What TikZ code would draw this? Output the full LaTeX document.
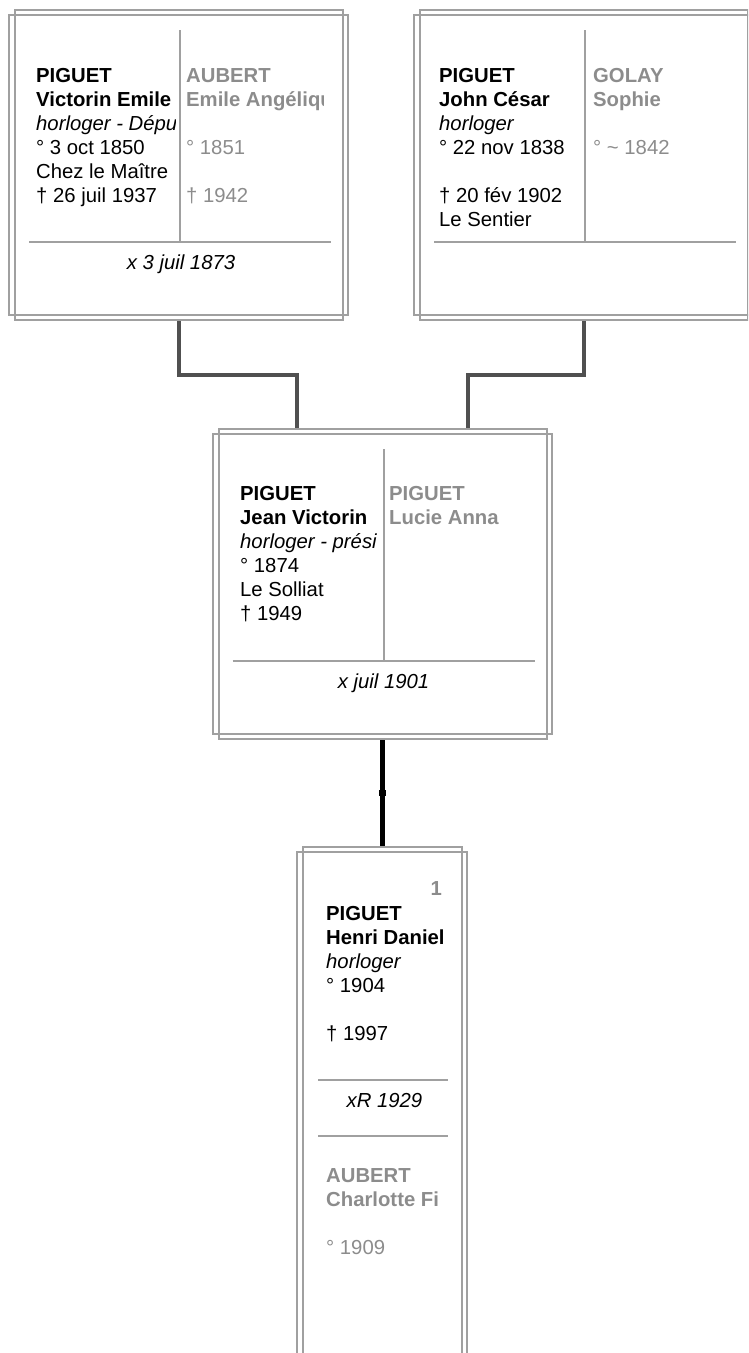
\documentclass[tikz,border=0pt]{standalone}
\usepackage{fontspec}
\setmainfont{Liberation Sans}
\usetikzlibrary{calc}

\definecolor{framegray}{HTML}{A0A0A0}
\definecolor{spousegray}{HTML}{8C8C8C}
\definecolor{linkgray}{HTML}{505050}

\tikzset{
  famframe/.style={inner sep=0, outer sep=0, minimum width=328pt, minimum height=310pt},
  sepline/.style={draw=framegray, line width=2pt},
  txt/.style={anchor=base west, inner sep=0, font=\fontsize{20.3pt}{24pt}\selectfont},
  spouse/.style={txt, text=spousegray},
  wedding/.style={txt, anchor=base, font=\fontsize{20.3pt}{24pt}\selectfont\itshape},
  link/.style={draw=linkgray, line width=4.5pt},
  kidlink/.style={draw=black, line width=5pt},
}

\begin{document}
\begin{tikzpicture}[x=1pt, y=-1pt]
  \useasboundingbox (0,0) rectangle (748,1353);
  \clip (0,0) rectangle (748,1353);

  % family boxes
  \node[famframe] (tl) at (179,165) {};
  \node[famframe] (tr) at (584,165) {};
  \node[famframe] (mid) at (382.5,584) {};
  \node[famframe, minimum width=159pt, minimum height=560pt] (kid) at (382.5,1127) {};

  % links between generations
  \coordinate (midl) at ($(mid.north)+(-85.5,0)$);
  \coordinate (midr) at ($(mid.north)+(85.5,0)$);
  \coordinate (kj) at ($(mid.south)!0.5!(kid.north)$);
  \draw[link] (tl.south) -- ++(0,55) -| (midl);
  \draw[link] (tr.south) -- ++(0,55) -| (midr);
  \draw[kidlink] (mid.south) -- (kj) -- (kid.north);
  \fill ($(kj)+(-3.5,-3)$) rectangle ($(kj)+(3.5,3)$);

  % double frames
  \foreach \b in {tl,tr,mid,kid} {
    \draw[sepline] (\b.north west) rectangle (\b.south east);
    \draw[sepline] ($(\b.north west)+(-6,5)$) rectangle ($(\b.south east)+(5,-5)$);
  }

  % husband / wife split and wedding rule
  \foreach \b in {tl,tr,mid} {
    \draw[sepline] ($(\b.north)+(1,20)$) -- ($(\b.north)+(1,232)$);
    \draw[sepline] ($(\b.north west)+(14,232)$) -- ($(\b.north east)+(-12,232)$);
  }

  % top left couple
  \begin{scope}
    \clip (30,40) rectangle (175,236);
    \foreach \t [count=\i] in {{\bfseries PIGUET}, {\bfseries Victorin Emile},
        {\itshape horloger - Dépu}, ° 3 oct 1850, Chez le Maître, † 26 juil 1937}
      \node[txt] (tlh\i) at (36,{82+(\i-1)*24}) {\t};
  \end{scope}
  \begin{scope}
    \clip (183,40) rectangle (323,236);
    \foreach \t [count=\i] in {{\bfseries AUBERT}, {\bfseries Emile Angéliqu}, {}, ° 1851, {}, † 1942}
      \node[spouse] (tlw\i) at (186,{82+(\i-1)*24}) {\t};
  \end{scope}
  \node[wedding] (tlx) at ($(tl.north)+(2,259)$) {x 3 juil 1873};

  % top right couple
  \begin{scope}
    \clip (435,40) rectangle (581,236);
    \foreach \t [count=\i] in {{\bfseries PIGUET}, {\bfseries John César},
        {\itshape horloger}, ° 22 nov 1838, {}, † 20 fév 1902, Le Sentier}
      \node[txt] (trh\i) at (439,{82+(\i-1)*24}) {\t};
  \end{scope}
  \begin{scope}
    \clip (589,40) rectangle (730,236);
    \foreach \t [count=\i] in {{\bfseries GOLAY}, {\bfseries Sophie}, {}, ° \textasciitilde{} 1842}
      \node[spouse] (trw\i) at (593,{82+(\i-1)*24}) {\t};
  \end{scope}

  % middle couple
  \begin{scope}
    \clip (232,460) rectangle (377,655);
    \foreach \t [count=\i] in {{\bfseries PIGUET}, {\bfseries Jean Victorin},
        {\itshape horloger - prési}, ° 1874, Le Solliat, † 1949}
      \node[txt] (mdh\i) at (240,{500+(\i-1)*24}) {\t};
  \end{scope}
  \begin{scope}
    \clip (386,460) rectangle (527,655);
    \foreach \t [count=\i] in {{\bfseries PIGUET}, {\bfseries Lucie Anna}}
      \node[spouse] (mdw\i) at (389,{500+(\i-1)*24}) {\t};
  \end{scope}
  \node[wedding] (mdx) at ($(mid.north)+(1,259)$) {x juil 1901};

  % child
  \node[spouse, anchor=base east, font=\fontsize{20.3pt}{24pt}\selectfont\bfseries] (kidno) at (442,895) {1};
  \begin{scope}
    \clip (318,860) rectangle (443,1070);
    \foreach \t [count=\i] in {{\bfseries PIGUET}, {\bfseries Henri Daniel},
        {\itshape horloger}, ° 1904, {}, † 1997}
      \node[txt] (kdh\i) at (326,{920+(\i-1)*24}) {\t};
  \end{scope}
  \draw[sepline] ($(kid.north west)+(15,233)$) -- ($(kid.north east)+(-14,233)$);
  \node[wedding] (kdx) at ($(kid.north)+(2,260)$) {xR 1929};
  \draw[sepline] ($(kid.north west)+(15,289)$) -- ($(kid.north east)+(-14,289)$);
  \begin{scope}
    \clip (318,1150) rectangle (443,1300);
    \foreach \t [count=\i] in {{\bfseries AUBERT}, {\bfseries Charlotte Fi}, {}, ° 1909}
      \node[spouse] (kdw\i) at (326,{1182+(\i-1)*24}) {\t};
  \end{scope}
\end{tikzpicture}
\end{document}
